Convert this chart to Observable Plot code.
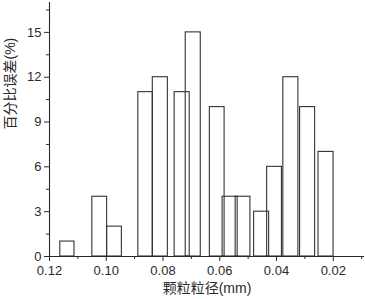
<!DOCTYPE html>
<html><head><meta charset="utf-8">
<script src="https://cdn.jsdelivr.net/npm/d3@7"></script>
<script src="https://cdn.jsdelivr.net/npm/@observablehq/plot@0.6"></script>
<style>body{margin:0;background:#fff}</style>
</head><body><div id="chart"></div>
<script>
// bar edges (mm) and percentage error values
const binLeft  = [0.1162, 0.1049, 0.0997, 0.0887, 0.0836, 0.0759, 0.0720, 0.0635, 0.0590, 0.0544, 0.0479, 0.0433, 0.0376, 0.0317, 0.0252];
const binRight = [0.1112, 0.0997, 0.0945, 0.0836, 0.0783, 0.0706, 0.0667, 0.0583, 0.0537, 0.0492, 0.0426, 0.0381, 0.0323, 0.0264, 0.0199];
const errorPct = [1, 4, 2, 11, 12, 11, 15, 10, 4, 4, 3, 6, 12, 10, 7];
const xMajor = [0.12, 0.10, 0.08, 0.06, 0.04, 0.02];
const xMinor = [0.11, 0.09, 0.07, 0.05, 0.03, 0.01];
const yMajor = [0, 3, 6, 9, 12, 15];
const yMinor = [1.5, 4.5, 7.5, 10.5, 13.5, 16.5];

const bars = errorPct.map((v, i) => ({x1: binLeft[i], x2: binRight[i], y: v}));
const ink = "#2a2a2a";
const font = "Arial, 'Liberation Sans', 'Noto Sans CJK SC', sans-serif";

const chart = Plot.plot({
  width: 365, height: 299,
  marginLeft: 49, marginRight: 1, marginTop: 2, marginBottom: 43,
  style: {fontFamily: font, fontSize: "13px", color: ink, background: "white"},
  x: {domain: [0.12, 0.009], label: null},
  y: {domain: [0, 17], label: null},
  marks: [
    Plot.rectY(bars, {x1: "x1", x2: "x2", y: "y", fill: "none", stroke: "#333", strokeWidth: 1.1}),
    Plot.ruleX([0.12], {stroke: ink, strokeWidth: 1.1}),
    Plot.ruleY([0], {stroke: ink, strokeWidth: 1.1}),
    Plot.axisX(xMajor, {tickSize: 5, tickPadding: 4, tickFormat: d3.format(".2f"), stroke: ink, fill: ink, fontSize: 13, label: null}),
    Plot.axisX(xMinor, {tickSize: 3, tickFormat: () => "", stroke: ink, label: null}),
    Plot.axisY(yMajor, {tickSize: 5, tickPadding: 3, stroke: ink, fill: ink, fontSize: 13, label: null}),
    Plot.axisY(yMinor, {tickSize: 3, tickFormat: () => "", stroke: ink, label: null}),
    Plot.text(["颗粒粒径(mm)"], {frameAnchor: "bottom", dy: 36, fontSize: 14, fill: ink, fontFamily: font}),
    Plot.text(["百分比误差(%)"], {frameAnchor: "left", dx: -39, rotate: -90, fontSize: 14, fill: ink, fontFamily: font})
  ]
});
document.getElementById("chart").append(chart);
</script>
</body></html>
